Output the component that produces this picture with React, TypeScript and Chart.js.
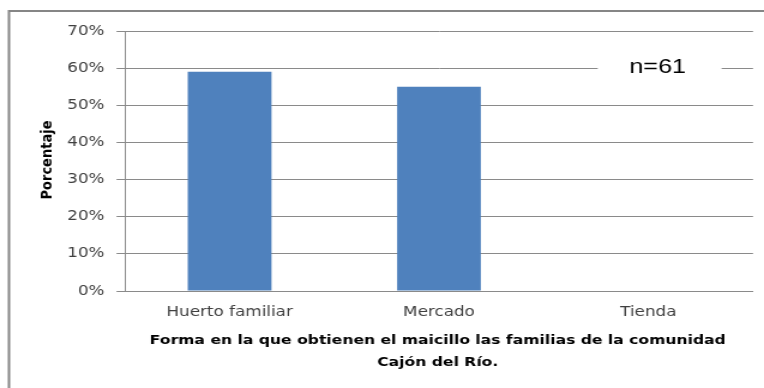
import React, { useEffect, useRef } from "react";
import { Chart, registerables } from "chart.js";

Chart.register(...registerables);

// ---- data ----
const categories = ["Huerto familiar", "Mercado", "Tienda"];
const percentages = [59, 55, 0];
const yTickValues = [0, 10, 20, 30, 40, 50, 60, 70];
const xTitleLines = [
  "Forma en la que obtienen el maicillo las familias de la comunidad",
  "Cajón del Río.",
];
const yTitle = "Porcentaje";
const noteText = "n=61";

// ---- layout ----
const W = 764;
const H = 388;
const STRETCH = 1.2;
const CW = Math.round(W / STRETCH);
const sx = (x: number) => x / STRETCH;

const GRID = "#8a8a8a";
const TICK_TEXT = "#404040";

const decor = {
  id: "decor",
  afterDatasetsDraw(chart: any) {
    const ctx = chart.ctx;
    ctx.save();
    ctx.fillStyle = "#ffffff";
    ctx.fillRect(sx(598), 45, sx(722) - sx(598), 45);
    ctx.fillStyle = "#000000";
    ctx.font = "21px 'Liberation Sans', Arial, sans-serif";
    ctx.textAlign = "center";
    ctx.textBaseline = "middle";
    ctx.fillText(noteText, sx(658), 67);
    ctx.restore();
  },
  afterDraw(chart: any) {
    const ctx = chart.ctx;
    const area = chart.chartArea;
    ctx.save();
    // outer frame
    ctx.strokeStyle = "#868686";
    ctx.lineWidth = 2;
    ctx.beginPath();
    ctx.moveTo(sx(9), H);
    ctx.lineTo(sx(9), 11);
    ctx.lineTo(CW, 11);
    ctx.stroke();
    // x title
    ctx.fillStyle = "#000000";
    ctx.font = "bold 13px 'DejaVu Sans', sans-serif";
    ctx.textAlign = "center";
    ctx.textBaseline = "middle";
    const cx = (area.left + area.right) / 2 - 1;
    ctx.fillText(xTitleLines[0], cx, 341);
    ctx.fillText(xTitleLines[1], cx, 363);
    // y title
    ctx.translate(sx(48), 160);
    ctx.rotate(-Math.PI / 2);
    ctx.fillText(yTitle, 0, 0);
    ctx.restore();
  },
};

export default function App() {
  const ref = useRef<HTMLCanvasElement | null>(null);
  useEffect(() => {
    const canvas = ref.current;
    if (!canvas) return;
    const chart = new Chart(canvas, {
      type: "bar",
      data: {
        labels: categories,
        datasets: [
          {
            data: percentages,
            backgroundColor: "#4f81bd",
            borderWidth: 0,
            barPercentage: 0.4,
            categoryPercentage: 1,
          },
        ],
      },
      options: {
        responsive: false,
        animation: false,
        devicePixelRatio: 1,
        layout: { padding: { left: 0, right: sx(764 - 753), top: 31, bottom: 0 } },
        plugins: { legend: { display: false }, tooltip: { enabled: false } },
        scales: {
          x: {
            grid: { display: false, drawTicks: false, tickLength: 0 },
            border: { display: true, color: GRID, width: 1 },
            ticks: {
              color: TICK_TEXT,
              font: { family: "'DejaVu Sans', sans-serif", size: 14 },
              padding: 13,
              maxRotation: 0,
            },
            afterFit: (s: any) => {
              s.height = H - 291;
            },
          },
          y: {
            min: yTickValues[0],
            max: yTickValues[yTickValues.length - 1],
            afterBuildTicks: (s: any) => {
              s.ticks = yTickValues.map((v) => ({ value: v }));
            },
            grid: { color: GRID, lineWidth: 1, drawTicks: true, tickLength: 7 },
            border: { display: true, color: GRID, width: 1 },
            ticks: {
              color: TICK_TEXT,
              font: { family: "'DejaVu Sans', sans-serif", size: 14 },
              padding: 10,
              callback: (v: any) => `${v}%`,
            },
            afterFit: (s: any) => {
              s.width = sx(125);
            },
          },
        },
      },
      plugins: [decor],
    });
    return () => chart.destroy();
  }, []);

  return (
    <div
      style={{
        position: "fixed",
        left: 0,
        top: 0,
        width: W,
        height: H,
        overflow: "hidden",
        background: "#ffffff",
      }}
    >
      <canvas
        ref={ref}
        width={CW}
        height={H}
        style={{
          width: CW,
          height: H,
          transform: `scaleX(${W / CW})`,
          transformOrigin: "0 0",
          display: "block",
        }}
      />
    </div>
  );
}
